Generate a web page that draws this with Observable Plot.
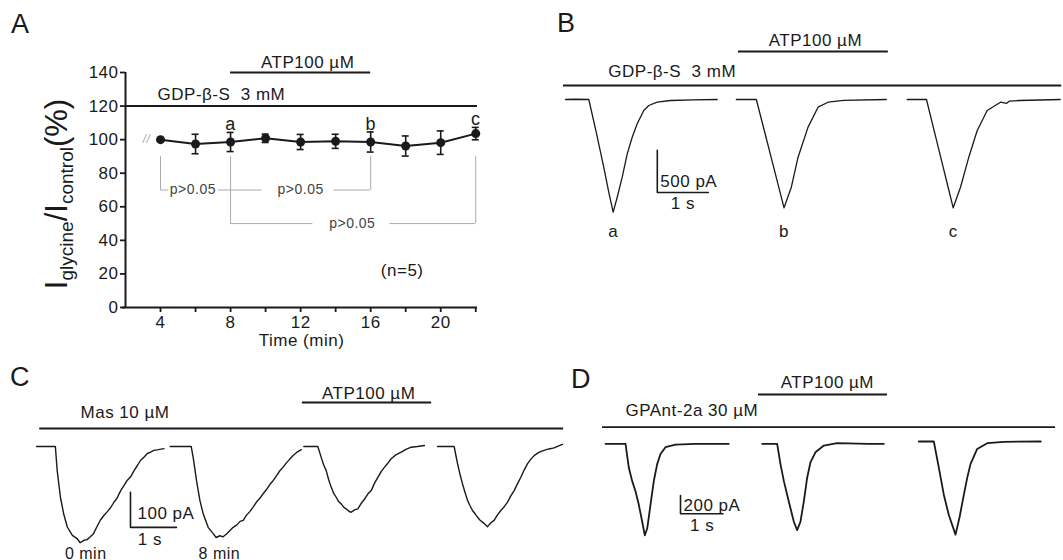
<!DOCTYPE html>
<html><head><meta charset="utf-8">
<script src="https://cdn.jsdelivr.net/npm/d3@7"></script>
<script src="https://cdn.jsdelivr.net/npm/@observablehq/plot@0.6"></script>
<style>
html,body{margin:0;padding:0;background:#fff;}
#fig{position:relative;width:1063px;height:560px;overflow:hidden;}
#fig .panel{position:absolute;}
#fig .panel svg{display:block;}
#fig .panel svg text{letter-spacing:0.5px;}
#overlay{position:absolute;left:0;top:0;pointer-events:none;}
</style></head><body><div id="fig"></div>
<script>
// ---------- Panel A data ----------
const timeMin = [4, 6, 8, 10, 12, 14, 16, 18, 20, 22];
const meanPct = [100, 97.4, 98.6, 100.8, 98.6, 99, 98.6, 96.2, 98.2, 103.6];
const semPct  = [0, 5.8, 5.7, 2.5, 4.5, 4.2, 6, 6, 7, 3.7];
const yTicksA = [0, 20, 40, 60, 80, 100, 120, 140];
const xTicksA = [4, 6, 8, 10, 12, 14, 16, 18, 20, 22];
const xTickLabelsA = ["4", "", "8", "", "12", "", "16", "", "20", ""];
const pointLabelsA = ["a", "b", "c"];
const pointLabelTimesA = [8, 16, 22];
const gdpBarA = [2, 22.1];   // min, GDP-β-S application
const atpBarA = [8, 16];     // min, ATP application
const bracketVerticalsA = [{x: 4, y1: 90, y2: 70}, {x: 8, y1: 90, y2: 50}, {x: 16, y1: 90, y2: 70}, {x: 22, y1: 90, y2: 50}];
const bracketHorizontalsA = [{x1: 4, x2: 4.45, y: 70}, {x1: 7.3, x2: 9.8, y: 70}, {x1: 13.9, x2: 16, y: 70}, {x1: 8, x2: 12.7, y: 50}, {x1: 17.1, x2: 22, y: 50}];
const pLabelsA = [{x: 5.85, y: 70, text: "p>0.05"}, {x: 12.0, y: 70, text: "p>0.05"}, {x: 14.95, y: 50, text: "p>0.05"}];

// ---------- Panel B traces [s, pA] ----------
const bTraceA = [[0,0],[0.2,3],[0.457,0],[0.6,-380],[0.75,-800],[0.85,-1100],[0.935,-1332],[1.014,-1155],[1.112,-918],[1.21,-642],[1.308,-446],[1.406,-287],[1.535,-130],[1.633,-71],[1.798,-32],[2.059,-12],[2.5,-4],[2.975,0]];
const bTraceB = [[0,0],[0.392,0],[0.55,-372],[0.7,-726],[0.82,-1009],[0.935,-1280],[1.078,-1037],[1.21,-682],[1.406,-327],[1.602,-91],[1.798,-32],[2.1,-10],[2.94,0]];
const bTraceC = [[0,0],[0.378,0],[0.55,-420],[0.7,-787],[0.8,-1031],[0.902,-1280],[1.045,-1037],[1.208,-682],[1.373,-366],[1.569,-130],[1.829,-32],[1.95,-45],[2.0,-20],[2.2,-12],[3.0,0]];
const bSweepLabels = ["a", "b", "c"];
const gdpBarB = [-0.04, 9.73];
const atpBarB = [3.39, 6.33];

// ---------- Panel C traces [s, pA] ----------
const cTrace1 = [[0,0],[0.41,0],[0.45,-69],[0.52,-145],[0.59,-192],[0.67,-230],[0.78,-254],[0.88,-263],[0.95,-275],[1.03,-268],[1.1,-266],[1.17,-258],[1.24,-249],[1.31,-230],[1.39,-210],[1.46,-198],[1.54,-186],[1.61,-175],[1.68,-160],[1.75,-148],[1.83,-126],[1.9,-112],[1.97,-97],[2.05,-86],[2.12,-69],[2.19,-55],[2.26,-40],[2.34,-30],[2.41,-20],[2.48,-16],[2.55,-11],[2.65,-9],[2.77,-6]];
const cTrace2 = [[0,0],[0.457,0],[0.5,-31],[0.572,-97],[0.646,-154],[0.717,-192],[0.826,-231],[0.935,-249],[1.0,-260],[1.08,-255],[1.15,-258],[1.224,-250],[1.3,-240],[1.37,-231],[1.45,-224],[1.52,-214],[1.587,-211],[1.66,-196],[1.73,-186],[1.804,-173],[1.88,-158],[1.95,-148],[2.02,-135],[2.1,-122],[2.17,-108],[2.24,-97],[2.31,-84],[2.38,-70],[2.457,-59],[2.53,-46],[2.6,-36],[2.674,-26],[2.76,-16],[2.85,-9]];
const cTrace3 = [[0,0],[0.304,0],[0.377,-31],[0.43,-52],[0.486,-69],[0.54,-95],[0.594,-116],[0.65,-134],[0.703,-145],[0.76,-158],[0.812,-164],[0.87,-174],[0.92,-178],[0.98,-185],[1.029,-188],[1.1,-181],[1.174,-178],[1.25,-162],[1.32,-150],[1.39,-136],[1.464,-126],[1.54,-104],[1.609,-88],[1.68,-72],[1.754,-59],[1.83,-47],[1.899,-35],[2.0,-24],[2.116,-16],[2.22,-8],[2.333,-2],[2.47,0],[2.62,3]];
const cTrace4 = [[0,0],[0.361,0],[0.435,-49],[0.49,-80],[0.543,-107],[0.6,-132],[0.652,-154],[0.71,-170],[0.761,-183],[0.82,-193],[0.87,-202],[0.92,-210],[0.978,-216],[1.03,-222],[1.087,-229],[1.16,-218],[1.23,-211],[1.3,-196],[1.376,-183],[1.45,-172],[1.522,-159],[1.59,-142],[1.665,-126],[1.74,-106],[1.811,-88],[1.88,-68],[1.957,-49],[2.03,-36],[2.1,-26],[2.2,-17],[2.317,-11],[2.42,-7],[2.535,-4],[2.62,1],[2.717,6]];
const cSweepLabels = ["0 min", "8 min"];
const masBarC = [0.07, 11.46];
const atpBarC = [5.78, 8.59];

// ---------- Panel D traces [s, pA] ----------
const dTrace1 = [[0,0],[0.471,0],[0.548,-259],[0.628,-408],[0.706,-519],[0.784,-667],[0.864,-852],[0.925,-1000],[0.981,-926],[1.059,-667],[1.136,-408],[1.216,-222],[1.294,-111],[1.412,-37],[1.647,-8],[2.118,0],[2.901,0]];
const dTrace2 = [[0,0],[0.353,0],[0.431,-222],[0.511,-408],[0.588,-556],[0.666,-704],[0.746,-852],[0.824,-944],[0.901,-852],[0.981,-630],[1.059,-371],[1.136,-204],[1.254,-93],[1.452,-19],[1.765,7],[2.5,0],[2.864,0]];
const dTrace3 = [[0,25],[0.353,25],[0.471,-260],[0.588,-556],[0.706,-778],[0.864,-993],[0.96,-800],[1.06,-556],[1.14,-370],[1.216,-222],[1.374,-56],[1.609,7],[2.0,22],[2.87,25]];
const gpantBarD = [-0.07, 10.59];
const atpBarD = [3.6, 6.635];

const FONT = '"Liberation Sans", Arial, Helvetica, sans-serif';
const INK = "#1a1a1a";
const fig = document.getElementById("fig");
function place(el, left, top) {
  const w = document.createElement("div");
  w.className = "panel";
  w.style.left = left + "px"; w.style.top = top + "px";
  w.appendChild(el); fig.appendChild(w);
}
const baseStyle = {fontFamily: FONT, fontSize: "17px", color: INK, background: "transparent", overflow: "visible"};

// ---------- Panel A ----------
const ptsA = timeMin.map((t, i) => ({t, m: meanPct[i], e: semPct[i]}));
const ptsAE = ptsA.filter(d => d.e > 0);
const labA = pointLabelsA.map((l, i) => {
  const p = ptsA.find(d => d.t === pointLabelTimesA[i]);
  return {t: p.t, y: p.m + p.e, l};
});
const plotA = Plot.plot({
  width: 540, height: 360,
  marginLeft: 125, marginRight: 63, marginTop: 72, marginBottom: 53,
  x: {domain: [2, 22.1]},
  y: {domain: [0, 140]},
  style: baseStyle,
  marks: [
    Plot.axisY({ticks: yTicksA, tickSize: 5, tickPadding: 2, strokeWidth: 1.8, label: null, fontSize: 17}),
    Plot.axisX({ticks: xTicksA, tickSize: 5, tickPadding: 3, strokeWidth: 1.8, label: null, fontSize: 17,
      tickFormat: d => xTickLabelsA[xTicksA.indexOf(d)]}),
    Plot.ruleX([gdpBarA[0]], {y1: 0, y2: 140, strokeWidth: 2, stroke: INK}),
    Plot.ruleY([0], {x1: gdpBarA[0] - 0.15, x2: gdpBarA[1], strokeWidth: 2, stroke: INK}),
    // drug bars
    Plot.ruleY([120], {x1: gdpBarA[0], x2: gdpBarA[1], strokeWidth: 2, stroke: INK}),
    Plot.ruleY([140], {x1: atpBarA[0], x2: atpBarA[1], strokeWidth: 2, stroke: INK}),
    Plot.text(["ATP100 µM"], {x: 12.4, y: 140, dy: -5, lineAnchor: "bottom", fontSize: 17}),
    Plot.text(["GDP-β-S\u00a0 3 mM"], {x: 3.83, y: 120, dy: -6, textAnchor: "start", lineAnchor: "bottom", fontSize: 17}),
    // comparison brackets
    Plot.ruleX(bracketVerticalsA, {x: "x", y1: "y1", y2: "y2", stroke: "#aaa", strokeWidth: 1}),
    Plot.ruleY(bracketHorizontalsA, {y: "y", x1: "x1", x2: "x2", stroke: "#aaa", strokeWidth: 1}),
    Plot.text(pLabelsA, {x: "x", y: "y", text: "text", fill: "#444", fontSize: 14}),
    // data
    Plot.ruleX(ptsAE, {x: "t", y1: d => d.m - d.e, y2: d => d.m + d.e, strokeWidth: 1.6, stroke: INK}),
    Plot.ruleY(ptsAE, {y: d => d.m + d.e, x1: d => d.t - 0.2, x2: d => d.t + 0.2, strokeWidth: 1.6, stroke: INK}),
    Plot.ruleY(ptsAE, {y: d => d.m - d.e, x1: d => d.t - 0.2, x2: d => d.t + 0.2, strokeWidth: 1.6, stroke: INK}),
    Plot.line(ptsA, {x: "t", y: "m", strokeWidth: 2, stroke: INK}),
    Plot.dot(ptsA, {x: "t", y: "m", r: 4.5, fill: INK, stroke: "none"}),
    Plot.text(labA, {x: "t", y: "y", text: "l", dy: -2, lineAnchor: "bottom", fontSize: 18}),
    Plot.text(["//"], {x: 3.2, y: 100, fill: "#aaa", fontSize: 12, fontStyle: "italic"}),
    Plot.text(["(n=5)"], {x: 17.8, y: 21.9, fontSize: 17}),
    Plot.text(["Time (min)"], {frameAnchor: "bottom", dy: 38, fontSize: 17})
  ]
});
place(plotA, 0, 0);

// ---------- trace panel helper ----------
function tracePanel(o) {
  const rows = o.sweeps.flatMap((tr, k) => tr.map(([t, I]) => ({k, t: t + k * o.pitch, I})));
  const peaks = o.sweeps.map((tr, k) => { const p = d3.least(tr, d => d[1]); return {t: p[0] + k * o.pitch, k}; });
  const sb = o.scaleBar;
  const sbLine = [[sb.t, sb.I + sb.dI], [sb.t, sb.I], [sb.t + sb.dt, sb.I]];
  const marks = [
    Plot.line(rows, {x: "t", y: "I", z: "k", stroke: INK, strokeWidth: o.lineWidth}),
    Plot.ruleY([0], {x1: o.bar1[0], x2: o.bar1[1], dy: o.bar1Dy, strokeWidth: 1.8, stroke: INK}),
    Plot.ruleY([0], {x1: o.bar2[0], x2: o.bar2[1], dy: o.bar2Dy, strokeWidth: 1.8, stroke: INK}),
    Plot.text([o.bar1Text], {x: o.bar1TextT, y: 0, dy: o.bar1TextDy, textAnchor: "start", lineAnchor: "bottom", fontSize: 17}),
    Plot.text([o.bar2Text], {x: o.bar2TextT, y: 0, dy: o.bar2TextDy, lineAnchor: "bottom", fontSize: 17}),
    Plot.line(sbLine, {x: d => d[0], y: d => d[1], stroke: INK, strokeWidth: 1.6}),
    Plot.text([sb.yText], {x: sb.t, y: sb.I, dx: sb.yTextDx, dy: sb.yTextDy, textAnchor: "start", lineAnchor: "bottom", fontSize: 17}),
    Plot.text(["1 s"], {x: sb.t + sb.sTextT, y: sb.I, dy: sb.sTextDy, lineAnchor: "bottom", fontSize: 17})
  ];
  if (o.labels) marks.push(Plot.text(o.labels.map((l, i) => ({l, t: o.labelT ? o.labelT + i * o.pitch : peaks[i].t})),
    {x: "t", y: () => o.labelI, text: "l", lineAnchor: "bottom", fontSize: o.labelSize}));
  return Plot.plot({
    width: o.width, height: o.height, margin: 0,
    x: {domain: [0, 1], range: o.xRange, axis: null},
    y: {domain: o.yDomain, range: o.yRange, axis: null},
    style: baseStyle,
    marks
  });
}

// ---------- Panel B ----------
place(tracePanel({
  width: 523, height: 260,
  sweeps: [bTraceA, bTraceB, bTraceC], pitch: 3.35, lineWidth: 1.3,
  xRange: [25, 76], yDomain: [0, -500], yRange: [99, 141.3],
  bar1: gdpBarB, bar1Dy: -14, bar1Text: "GDP-β-S\u00a0 3 mM", bar1TextT: 0.84, bar1TextDy: -23,
  bar2: atpBarB, bar2Dy: -48, bar2Text: "ATP100 µM", bar2TextT: 4.9, bar2TextDy: -54,
  scaleBar: {t: 1.8, I: -1100, dI: 500, dt: 1, yText: "500 pA", yTextDx: 3, yTextDy: -6, sTextT: 0.5, sTextDy: 16},
  labels: bSweepLabels, labelI: -1630, labelSize: 17
}), 540, 0);

// ---------- Panel C ----------
place(tracePanel({
  width: 580, height: 190,
  sweeps: [cTrace1, cTrace2, cTrace3, cTrace4], pitch: 2.906, lineWidth: 1.4,
  xRange: [36, 82], yDomain: [0, -100], yRange: [76, 111],
  bar1: masBarC, bar1Dy: -18, bar1Text: "Mas 10 µM", bar1TextT: 0.957, bar1TextDy: -29,
  bar2: atpBarC, bar2Dy: -44, bar2Text: "ATP100 µM", bar2TextT: 7.22, bar2TextDy: -48,
  scaleBar: {t: 2.043, I: -231, dI: 100, dt: 1, yText: "100 pA", yTextDx: 7, yTextDy: -8, sTextT: 0.42, sTextDy: 18},
  labels: cSweepLabels, labelT: 1.07, labelI: -320, labelSize: 16
}), 0, 370);

// ---------- Panel D ----------
place(tracePanel({
  width: 483, height: 200,
  sweeps: [dTrace1, dTrace2, dTrace3], pitch: 3.686, lineWidth: 1.8,
  xRange: [25, 67.5], yDomain: [0, -1000], yRange: [83.3, 174.8],
  bar1: gpantBarD, bar1Dy: -16.6, bar1Text: "GPAnt-2a 30 µM", bar1TextT: 0.47, bar1TextDy: -28.3,
  bar2: atpBarD, bar2Dy: -49.3, bar2Text: "ATP100 µM", bar2TextT: 5.22, bar2TextDy: -56.3,
  scaleBar: {t: 1.765, I: -765, dI: 200, dt: 1, yText: "200 pA", yTextDx: 3, yTextDy: -3, sTextT: 0.51, sTextDy: 17}
}), 580, 360);

// ---------- overlay: panel letters and y title ----------
const ov = d3.select(fig).append("svg").attr("id", "overlay").attr("width", 1063).attr("height", 560)
  .style("font-family", FONT).style("fill", INK);
const letters = [{l: "A", x: 11, y: 33}, {l: "B", x: 557, y: 32}, {l: "C", x: 10, y: 386}, {l: "D", x: 571, y: 388}];
ov.selectAll("text.letter").data(letters).join("text").attr("class", "letter")
  .attr("x", d => d.x).attr("y", d => d.y).attr("font-size", 27).text(d => d.l);
const yt = ov.append("text").attr("transform", "translate(67,194) rotate(-90)")
  .attr("text-anchor", "middle").attr("font-size", 31);
yt.append("tspan").text("I");
yt.append("tspan").attr("font-size", 19).attr("dy", 6).text("glycine");
yt.append("tspan").attr("dy", -6).text("/I");
yt.append("tspan").attr("font-size", 19).attr("dy", 6).text("control");
yt.append("tspan").attr("dy", -6).text("(%)");
</script></body></html>
